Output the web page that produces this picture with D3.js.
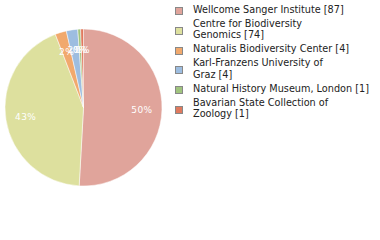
<!DOCTYPE html>
<html>
<head>
<meta charset="utf-8">
<script src="https://cdn.jsdelivr.net/npm/d3@7"></script>
<style>
  body { margin: 0; background: #fff; }
  text { font-family: "DejaVu Sans", Verdana, sans-serif; }
</style>
</head>
<body>
<div id="chart"></div>
<script>
var institutions = ["Wellcome Sanger Institute", "Centre for Biodiversity Genomics", "Naturalis Biodiversity Center",
  "Karl-Franzens University of Graz", "Natural History Museum, London", "Bavarian State Collection of Zoology"];
var counts = [87, 74, 4, 4, 1, 1];
// legend text as wrapped in the picture
var legendLines = [
  ["Wellcome Sanger Institute [87]"],
  ["Centre for Biodiversity", "Genomics [74]"],
  ["Naturalis Biodiversity Center [4]"],
  ["Karl-Franzens University of", "Graz [4]"],
  ["Natural History Museum, London [1]"],
  ["Bavarian State Collection of", "Zoology [1]"]
];
var colors = ["#e0a49b", "#dde09e", "#f1a96d", "#9dbde0", "#a0c47e", "#e07a5e"];

var width = 380, height = 240;
var cx = 83.5, cy = 107.5, radius = 78.5;

var svg = d3.select("#chart").append("svg")
  .attr("width", width)
  .attr("height", height);

var total = d3.sum(counts);
var pie = d3.pie().sort(null).value(function(d) { return d; });
var arcs = pie(counts);

var arc = d3.arc().innerRadius(0).outerRadius(radius);
var labelArc = d3.arc().innerRadius(radius * 0.745).outerRadius(radius * 0.745);

var g = svg.append("g").attr("transform", "translate(" + cx + "," + cy + ")");

g.selectAll("path.slice")
  .data(arcs)
  .enter().append("path")
  .attr("class", "slice")
  .attr("d", arc)
  .attr("fill", function(d, i) { return colors[i]; })
  .attr("stroke", "#fff")
  .attr("stroke-width", 0.5);

g.selectAll("text.pct")
  .data(arcs)
  .enter().append("text")
  .attr("class", "pct")
  .attr("transform", function(d) { return "translate(" + labelArc.centroid(d) + ")"; })
  .attr("text-anchor", "middle")
  .attr("dy", "0.4em")
  .attr("fill", "#fff")
  .style("font-size", "9px")
  .style("letter-spacing", "0.4px")
  .text(function(d) { return Math.floor(d.value / total * 100) + "%"; });

// legend
var legend = svg.append("g");
var base = 12.5, lineH = 11.5, step = 14;
legendLines.forEach(function(lines, i) {
  var item = legend.append("g");
  var last = base + (lines.length - 1) * lineH;
  var mid = (base + last) / 2 - 2;
  item.append("rect")
    .attr("x", 175.5)
    .attr("y", Math.round(mid - 3.5) + 0.5)
    .attr("width", 7)
    .attr("height", 7)
    .attr("fill", colors[i])
    .attr("stroke", "#888")
    .attr("stroke-width", 1);
  lines.forEach(function(t, j) {
    item.append("text")
      .attr("x", 193)
      .attr("y", base + j * lineH)
      .attr("fill", "#222")
      .style("font-size", "9.7px")
      .text(t);
  });
  base = last + step;
});
</script>
</body>
</html>
